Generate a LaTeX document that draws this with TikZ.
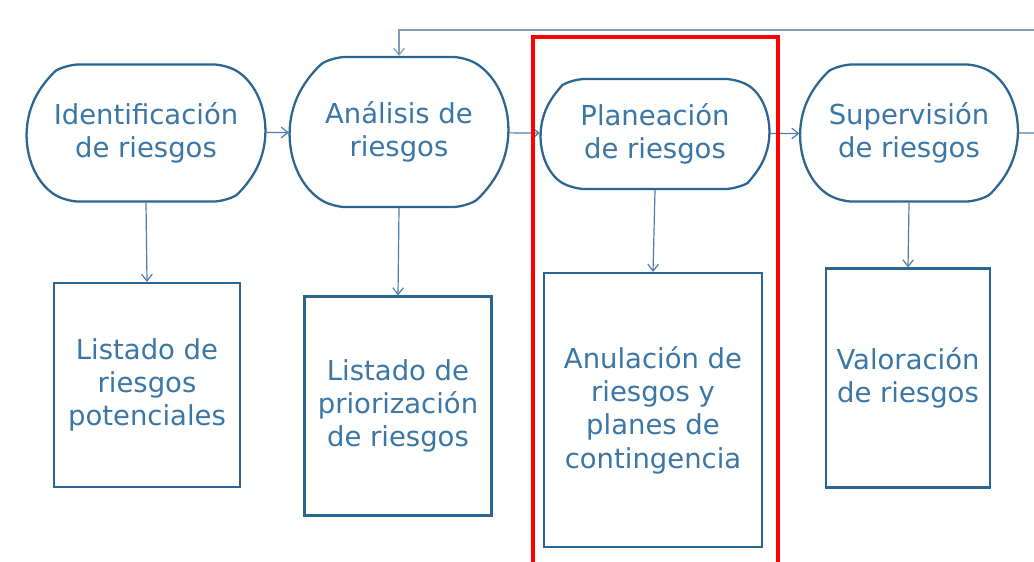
\documentclass[tikz,border=0pt]{standalone}
\usepackage{fontspec}
\setmainfont{DejaVu Sans}
\usetikzlibrary{shapes.misc,arrows.meta}
\definecolor{azul}{HTML}{2B6592}
\definecolor{letra}{HTML}{3A76A6}
\definecolor{flecha}{HTML}{4F7FA6}
\definecolor{retro}{HTML}{7F9CBB}
\tikzset{
  etapa/.style={rounded rectangle, rounded rectangle arc length=120,
    rounded corners=9pt,
    draw=azul, line width=1.7pt, fill=white, text=letra, align=center,
    inner sep=0pt, font=\fontsize{20.6}{25}\selectfont},
  salida/.style={rectangle, draw=azul, line width=1.7pt, fill=white,
    text=letra, align=center, inner sep=0pt,
    font=\fontsize{20.6}{25}\selectfont},
  flujo/.style={draw=flecha, line width=0.9pt,
    -{Straight Barb[length=5pt,width=8pt]}}
}
\begin{document}
\begin{tikzpicture}[x=0.75pt, y=-0.75pt]
\useasboundingbox[fill=white] (0,0) rectangle (1034,561);

% etapas del proceso
\node[etapa, minimum width=178.5pt, minimum height=102.75pt] (ident) at (146,133) {Identificación\\de riesgos};
\node[etapa, minimum width=163.5pt, minimum height=112.5pt] (anal) at (399,132) {Análisis de\\riesgos};
\node[etapa, minimum width=171pt, minimum height=82.5pt] (plan) at (655,134) {Planeación\\de riesgos};
\node[etapa, minimum width=162.75pt, minimum height=102.75pt] (sup) at (909,133) {Supervisión\\de riesgos};

% resultados
\node[salida, minimum width=139.5pt, minimum height=153pt] (pot) at (147,385) {Listado de\\riesgos\\potenciales};
\node[salida, minimum width=140.25pt, minimum height=164.25pt] (prio) at (398,406) {Listado de\\priorización\\de riesgos};
\node[salida, minimum width=163.5pt, minimum height=205.5pt] (anul) at (653,410) {Anulación de\\riesgos y\\planes de\\contingencia};
\node[salida, minimum width=123pt, minimum height=164.25pt] (val) at (908,378) {Valoración\\de riesgos};

\coordinate (fin) at (1034,133);
\coordinate (vuelta) at (1034,30);

\draw[flujo] (ident) -- (anal);
\draw[flujo] (anal) -- (plan);
\draw[flujo] (plan) -- (sup);
\draw[flujo,-] (sup) -- (fin);
\draw[flujo,draw=retro] (vuelta) -| (anal.north);

\draw[flujo] (ident.south) -- (pot.north);
\draw[flujo] (anal.south) -- (prio.north);
\draw[flujo] (plan.south) -- (anul.north);
\draw[flujo] (sup.south) -- (val.north);

% marco rojo
\draw[red, line width=3pt] (533,563) -- (533,37) -- (778,37) -- (778,563);
\end{tikzpicture}
\end{document}
